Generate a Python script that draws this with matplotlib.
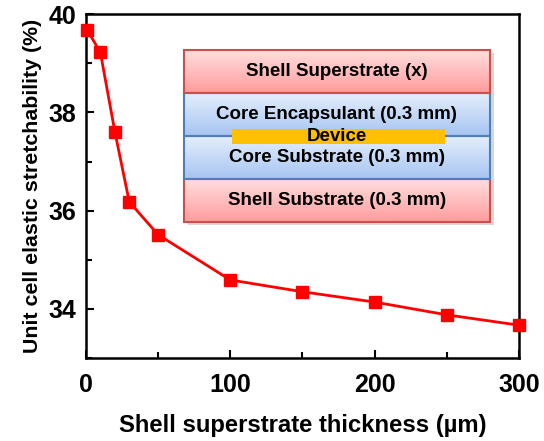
import numpy as np
import matplotlib as mpl
mpl.use("Agg")
import matplotlib.pyplot as plt
from matplotlib.ticker import MultipleLocator
from matplotlib.patches import Rectangle

mpl.rcParams['font.family'] = ['Liberation Sans', 'DejaVu Sans']
mpl.rcParams['font.weight'] = 'bold'

# data
thickness = [1, 10, 20, 30, 50, 100, 150, 200, 250, 300]
stretch = [39.67, 39.22, 37.61, 36.18, 35.51, 34.59, 34.35, 34.14, 33.88, 33.67]

# inset layer stack, bottom to top
layer_names = ["Shell Substrate (0.3 mm)", "Core Substrate (0.3 mm)",
               "Core Encapsulant (0.3 mm)", "Shell Superstrate (x)"]
layer_kind = ["shell", "core", "core", "shell"]

fig = plt.figure(figsize=(5.44, 4.41), dpi=100)
ax = fig.add_axes([0.158, 0.188, 0.796, 0.780])
ax.plot(thickness, stretch, color="#ff0000", lw=2, marker="s", ms=8,
        clip_on=False, zorder=5)
ax.set_xlim(0, 300)
ax.set_ylim(33, 40)
ax.xaxis.set_major_locator(MultipleLocator(100))
ax.xaxis.set_minor_locator(MultipleLocator(50))
ax.yaxis.set_major_locator(MultipleLocator(2))
ax.yaxis.set_minor_locator(MultipleLocator(1))
ax.set_yticks([34, 36, 38, 40])
ax.tick_params(which="both", direction="in", width=1.5, labelsize=18, pad=7)
ax.tick_params(which="major", length=6)
ax.tick_params(which="minor", length=4)
ax.tick_params(axis="x", pad=11)
for s in ax.spines.values():
    s.set_linewidth(1.8)
ax.set_xlabel("Shell superstrate thickness (\u00b5m)", fontsize=17.2,
              fontweight="bold", labelpad=12)
ax.set_ylabel("Unit cell elastic stretchability (%)", fontsize=15.4,
              fontweight="bold", labelpad=5)

# inset schematic
ins = fig.add_axes([0.338, 0.4966, 0.5625, 0.39])
ins.set_xlim(0, 1)
ins.set_ylim(0, 4)
ins.axis("off")

grad = np.linspace(0, 1, 64).reshape(-1, 1)
cm_shell = mpl.colors.LinearSegmentedColormap.from_list("s", ["#ffdede", "#ff9c9c"])
cm_core = mpl.colors.LinearSegmentedColormap.from_list("c", ["#e4eefc", "#a6c5f2"])
edge = {"shell": "#c9504d", "core": "#4f7fb8"}
cmaps = {"shell": cm_shell, "core": cm_core}

# shadow
ins.add_patch(Rectangle((0.012, -0.08), 1, 4, facecolor="#b0b0b0", alpha=0.5,
                        edgecolor="none", clip_on=False, zorder=0))
for i, (name, kind) in enumerate(zip(layer_names, layer_kind)):
    ins.imshow(grad, cmap=cmaps[kind], extent=[0, 1, i, i + 1], aspect="auto",
               origin="upper", zorder=1)
    ins.add_patch(Rectangle((0, i), 1, 1, facecolor="none", edgecolor=edge[kind],
                            lw=1.5, zorder=2, clip_on=False))
    ins.text(0.5, i + 0.5, name, ha="center", va="center", fontsize=13.5,
             fontweight="bold", zorder=4)

ins.add_patch(Rectangle((0.157, 1.81), 0.696, 0.35, facecolor="#ffc000",
                        edgecolor="none", zorder=3))
ins.text(0.5, 1.99, "Device", ha="center", va="center", fontsize=13.5,
         fontweight="bold", zorder=4)
ins.set_xlim(0, 1)
ins.set_ylim(0, 4)

fig.savefig("out.png", dpi=100)
